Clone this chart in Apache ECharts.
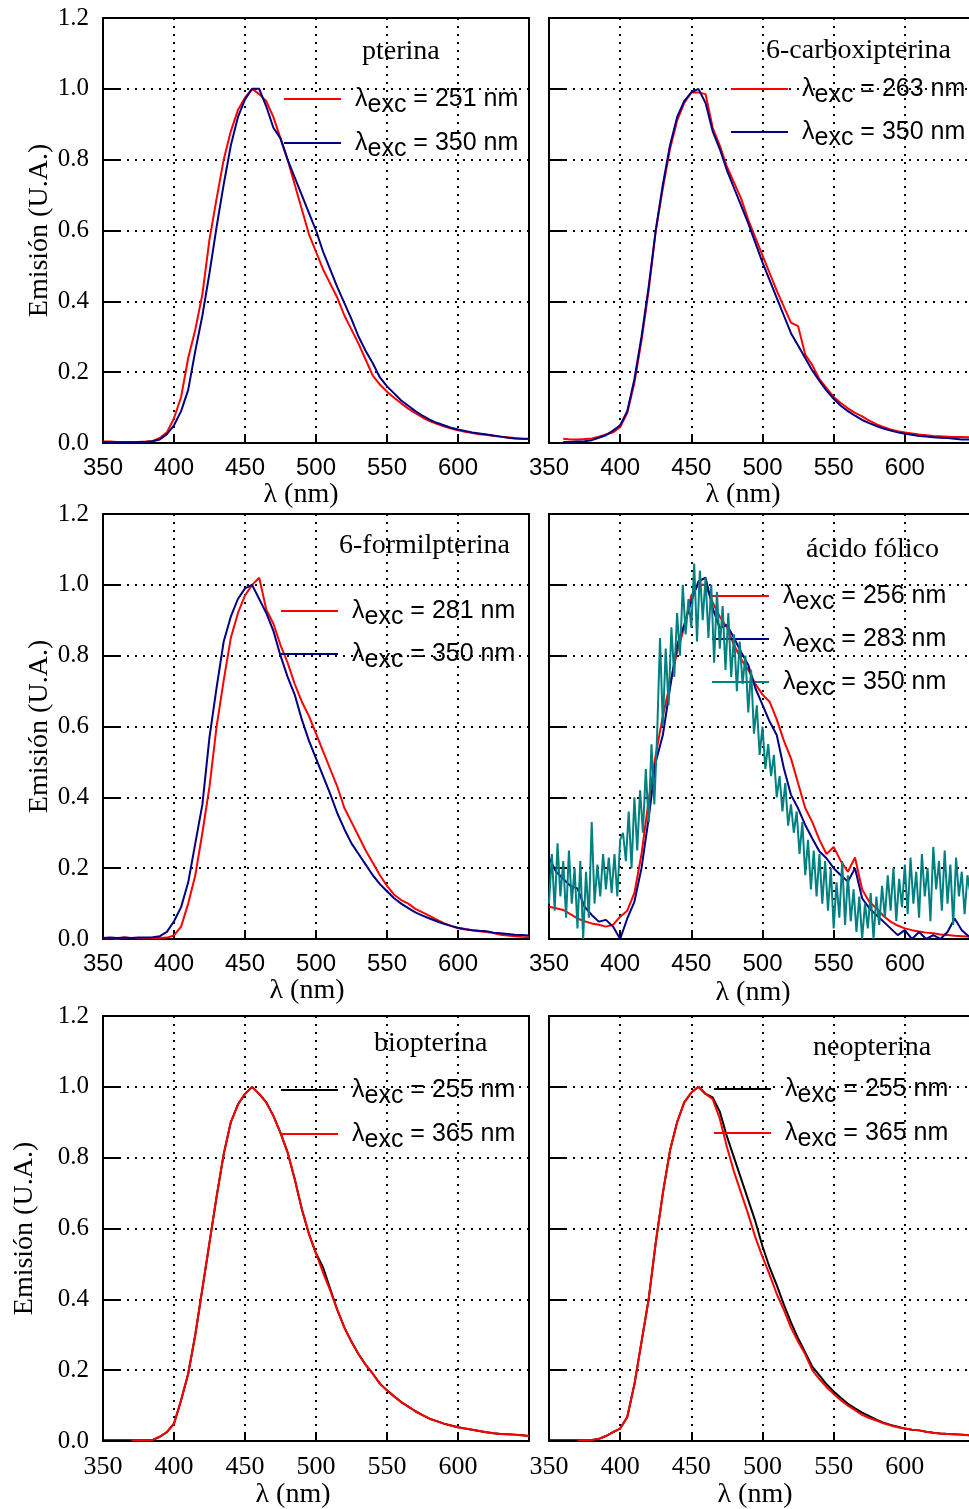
<!DOCTYPE html>
<html>
<head>
<meta charset="utf-8">
<title>Emisión</title>
<script src="https://cdn.jsdelivr.net/npm/echarts@6/dist/echarts.min.js"></script>
<style>
    html, body { margin: 0; padding: 0; background: #fff; }
    #id-div-chart { width: 969px; height: 1509px; }
</style>
</head>
<body>
<div id="id-div-chart"></div>
<script>
var log = console.log.bind(console)

var e = (selector) => document.querySelector(selector)

// longitud de onda (nm), cada 5 nm
var wavelength = [
    350, 355, 360, 365, 370, 375, 380, 385, 390, 395,
    400, 405, 410, 415, 420, 425, 430, 435, 440, 445,
    450, 455, 460, 465, 470, 475, 480, 485, 490, 495,
    500, 505, 510, 515, 520, 525, 530, 535, 540, 545,
    550, 555, 560, 565, 570, 575, 580, 585, 590, 595,
    600, 605, 610, 615, 620, 625, 630, 635, 640, 645, 650,
]

// espectro ruidoso de ácido fólico (exc 350), cada 2 nm
var wavelengthFine = [
    350, 352, 354, 356, 358, 360, 362, 364, 366, 368,
    370, 372, 374, 376, 378, 380, 382, 384, 386, 388,
    390, 392, 394, 396, 398, 400, 402, 404, 406, 408,
    410, 412, 414, 416, 418, 420, 422, 424, 426, 428,
    430, 432, 434, 436, 438, 440, 442, 444, 446, 448,
    450, 452, 454, 456, 458, 460, 462, 464, 466, 468,
    470, 472, 474, 476, 478, 480, 482, 484, 486, 488,
    490, 492, 494, 496, 498, 500, 502, 504, 506, 508,
    510, 512, 514, 516, 518, 520, 522, 524, 526, 528,
    530, 532, 534, 536, 538, 540, 542, 544, 546, 548,
    550, 552, 554, 556, 558, 560, 562, 564, 566, 568,
    570, 572, 574, 576, 578, 580, 582, 584, 586, 588,
    590, 592, 594, 596, 598, 600, 602, 604, 606, 608,
    610, 612, 614, 616, 618, 620, 622, 624, 626, 628,
    630, 632, 634, 636, 638, 640, 642, 644, 646,
]

var pterina251 = [
    .004, .004, .003, .003, .003, .003, .004, .006, .014, .03,
    .07, .13, .24, .32, .42, .575, .69, .80, .88, .94,
    .975, 1.0, .985, .965, .92, .86, .80, .73, .66, .59,
    .54, .49, .45, .41, .36, .32, .28, .235, .19, .165,
    .145, .128, .112, .097, .084, .072, .062, .054, .047, .041,
    .036, .032, .028, .025, .023, .02, .018, .016, .014, .012, .011,
]
var pterina350 = [
    .002, .002, .002, .002, .002, .003, .003, .005, .01, .025,
    .05, .09, .15, .26, .36, .48, .61, .73, .84, .92,
    .97, 1.0, 1.0, .95, .89, .86, .80, .75, .70, .65,
    .60, .54, .49, .44, .395, .35, .30, .26, .225, .185,
    .16, .14, .12, .105, .09, .077, .066, .057, .05, .043,
    .038, .034, .03, .027, .024, .021, .018, .015, .013, .012, .012,
]

var carboxi263 = [
    null, null, .012, .01, .01, .011, .013, .018, .024, .03,
    .045, .085, .17, .29, .43, .60, .72, .83, .91, .96,
    .99, .99, .985, .89, .84, .78, .735, .69, .63, .58,
    .53, .48, .43, .385, .34, .33, .25, .22, .18, .155,
    .13, .113, .098, .085, .075, .063, .053, .045, .038, .033,
    .03, .027, .024, .022, .02, .019, .018, .017, .017, .016, .015,
]
var carboxi350 = [
    null, null, .003, .003, .004, .005, .008, .015, .022, .035,
    .05, .09, .18, .30, .44, .60, .73, .84, .92, .965,
    .99, 1.0, .96, .88, .83, .77, .72, .67, .62, .565,
    .51, .46, .41, .36, .31, .275, .24, .205, .175, .148,
    .125, .105, .09, .077, .065, .056, .048, .041, .035, .03,
    .026, .023, .02, .018, .016, .015, .014, .012, .01, .01, .01,
]

var formil281 = [
    .002, .003, .001, .004, .002, .003, .002, .003, .003, .004,
    .01, .035, .10, .18, .30, .43, .60, .73, .85, .92,
    .97, 1.0, 1.02, .93, .89, .83, .78, .72, .67, .63,
    .58, .53, .48, .43, .37, .33, .29, .25, .215, .18,
    .15, .125, .11, .10, .085, .075, .065, .055, .045, .037,
    .03, .027, .025, .022, .02, .017, .012, .01, .008, .006, .005,
]
var formil350 = [
    .003, .004, .003, .004, .003, .004, .004, .005, .008, .02,
    .05, .09, .16, .27, .38, .57, .71, .84, .91, .96,
    .99, 1.0, .96, .92, .87, .80, .74, .69, .62, .56,
    .51, .46, .41, .355, .31, .27, .24, .21, .18, .155,
    .135, .115, .10, .087, .075, .066, .058, .05, .043, .037,
    .032, .028, .025, .023, .022, .018, .016, .014, .012, .011, .01,
]

var folico256 = [
    .091, .087, .082, .07, .058, .05, .044, .04, .035, .04,
    .063, .08, .13, .24, .39, .52, .63, .72, .81, .88,
    .97, 1.0, 1.0, .95, .91, .88, .83, .79, .76, .72,
    .69, .67, .62, .56, .51, .44, .37, .33, .28, .24,
    .26, .22, .19, .23, .14, .105, .087, .065, .049, .038,
    .03, .025, .021, .018, .016, .013, .011, .009, .008, .007, .006,
]
var folico283 = [
    .23, .19, .17, .15, .143, .091, .068, .049, .054, .035,
    .0, .058, .105, .20, .34, .50, .576, .708, .83, .887,
    .953, 1.01, 1.02, .934, .878, .887, .85, .81, .774, .708,
    .661, .614, .576, .482, .407, .369, .322, .284, .247, .228,
    .20, .18, .162, .20, .115, .087, .068, .049, .03, .011,
    .025, .0, .02, .0, .011, .0, .02, .058, .025, .007, .0,
]
var folico350 = [
    .10, .24, .08, .27, .12, .22, .06, .25, .10, .20,
    .03, .22, .00, .19, .06, .33, .10, .21, .12, .24,
    .14, .23, .13, .24, .12, .28, .30, .22, .36, .20,
    .40, .25, .42, .30, .48, .33, .55, .38, .58, .85,
    .60, .82, .66, .88, .74, .92, .80, 1.00, .86, .96,
    .88, 1.06, .84, 1.04, .90, 1.02, .85, 1.00, .78, .98,
    .82, .94, .76, .92, .74, .86, .70, .84, .72, .80,
    .64, .76, .58, .66, .52, .60, .48, .55, .46, .52,
    .40, .46, .36, .44, .32, .38, .30, .36, .24, .33,
    .18, .28, .14, .25, .12, .24, .10, .22, .08, .20,
    .03, .16, .06, .22, .04, .18, .05, .14, .02, .12,
    .00, .10, .03, .13, .00, .12, .04, .15, .06, .18,
    .08, .20, .05, .17, .09, .21, .07, .23, .10, .19,
    .06, .24, .12, .20, .05, .26, .14, .22, .08, .25,
    .10, .21, .04, .23, .12, .19, .07, .18, .13,
]

var bio255 = [
    .002, .002, .002, .002, .002, .002, .002, .003, .012, .025,
    .049, .115, .19, .30, .43, .56, .69, .81, .90, .95,
    .98, 1.0, .98, .956, .918, .87, .815, .74, .655, .585,
    .53, .49, .43, .37, .32, .28, .245, .215, .19, .162,
    .143, .126, .11, .097, .084, .073, .063, .056, .049, .044,
    .039, .035, .032, .028, .025, .022, .02, .019, .018, .016, .014,
]
var bio365 = [
    null, null, null, null, .002, .002, .002, .003, .012, .025,
    .049, .115, .19, .30, .43, .56, .69, .81, .90, .95,
    .98, 1.0, .98, .956, .918, .87, .815, .74, .655, .585,
    .53, .475, .425, .37, .32, .28, .245, .215, .19, .162,
    .143, .126, .11, .097, .084, .073, .063, .056, .049, .044,
    .039, .035, .032, .028, .025, .022, .02, .019, .018, .016, .014,
]

var neo255 = [
    .002, .002, .002, .002, .002, .002, .003, .006, .014, .025,
    .035, .068, .16, .28, .40, .56, .70, .82, .90, .956,
    .984, 1.0, .98, .97, .93, .86, .80, .74, .68, .62,
    .55, .49, .44, .385, .335, .29, .25, .21, .185, .16,
    .14, .122, .105, .092, .08, .07, .06, .052, .045, .04,
    .035, .032, .03, .026, .023, .021, .02, .019, .018, .016, .015,
]
var neo365 = [
    null, null, null, null, .002, .002, .003, .006, .014, .025,
    .035, .068, .16, .28, .40, .56, .70, .82, .90, .956,
    .984, 1.0, .98, .965, .91, .83, .76, .70, .64, .575,
    .52, .47, .415, .37, .32, .28, .245, .20, .175, .152,
    .133, .115, .10, .087, .074, .065, .058, .05, .044, .039,
    .035, .032, .03, .026, .023, .021, .02, .019, .018, .016, .015,
]

var yTicks = [0, 0.2, 0.4, 0.6, 0.8, 1.0, 1.2]

var serif = 'Liberation Serif'
var sans = 'Liberation Sans'
var red = '#ff0000'
var navy = '#000080'
var teal = '#008080'
var black = '#000000'

// posición de cada panel (px)
var layout = [
    {left: 103, top: 18, width: 426, title: 'pterina', titleLeft: 362, titleTop: 38,
        legendLeft: 284, legendTop: 80, legendGap: 6, xFont: sans, xSize: 24, yLabel: true, yNameGap: 44, xNameGap: 36, xNameShift: 30},
    {left: 549, top: 18, width: 427, title: '6-carboxipterina', titleLeft: 766, titleTop: 37,
        legendLeft: 731, legendTop: 70, legendGap: 5, xFont: sans, xSize: 24, yLabel: false, xNameGap: 37, xNameShift: 39},
    {left: 103, top: 514, width: 426, title: '6-formilpterina', titleLeft: 339, titleTop: 532,
        legendLeft: 281, legendTop: 592, legendGap: 5, xFont: sans, xSize: 24, yLabel: true, yNameGap: 44, xNameGap: 35, xNameShift: 18},
    {left: 549, top: 514, width: 427, title: 'ácido fólico', titleLeft: 806, titleTop: 536,
        legendLeft: 712, legendTop: 577, legendGap: 5, xFont: sans, xSize: 24, yLabel: false, xNameGap: 40, xNameShift: 19},
    {left: 103, top: 1016, width: 426, title: 'biopterina', titleLeft: 374, titleTop: 1030,
        legendLeft: 281, legendTop: 1071, legendGap: 6, xFont: serif, xSize: 26, yLabel: true, yNameGap: 64, xNameGap: 36, xNameShift: 46},
    {left: 549, top: 1016, width: 427, title: 'neopterina', titleLeft: 813, titleTop: 1034,
        legendLeft: 714, legendTop: 1070, legendGap: 6, xFont: serif, xSize: 26, yLabel: false, xNameGap: 28, xNameShift: 15},
]

var panelSeries = [
    [
        {key: 'pterina 251', nm: 251, color: red, x: wavelength, y: pterina251},
        {key: 'pterina 350', nm: 350, color: navy, x: wavelength, y: pterina350},
    ],
    [
        {key: 'carboxi 263', nm: 263, color: red, x: wavelength, y: carboxi263},
        {key: 'carboxi 350', nm: 350, color: navy, x: wavelength, y: carboxi350},
    ],
    [
        {key: 'formil 281', nm: 281, color: red, x: wavelength, y: formil281},
        {key: 'formil 350', nm: 350, color: navy, x: wavelength, y: formil350},
    ],
    [
        {key: 'folico 256', nm: 256, color: red, x: wavelength, y: folico256},
        {key: 'folico 283', nm: 283, color: navy, x: wavelength, y: folico283},
        {key: 'folico 350', nm: 350, color: teal, x: wavelengthFine, y: folico350},
    ],
    [
        {key: 'bio 255', nm: 255, color: black, x: wavelength, y: bio255},
        {key: 'bio 365', nm: 365, color: red, x: wavelength, y: bio365},
    ],
    [
        {key: 'neo 255', nm: 255, color: black, x: wavelength, y: neo255},
        {key: 'neo 365', nm: 365, color: red, x: wavelength, y: neo365},
    ],
]

var pairs = function(xs, ys) {
    var r = []
    for (var i = 0; i < xs.length; i++) {
        r.push([xs[i], ys[i]])
    }
    return r
}

var excitation = {}

var legendRich = {
    l: {fontFamily: sans, fontSize: 25, lineHeight: 25, color: '#000', padding: [0, 0, 0, 9]},
    s: {fontFamily: sans, fontSize: 25, lineHeight: 25, color: '#000', padding: [13, 0, 0, 0]},
    t: {fontFamily: sans, fontSize: 25, lineHeight: 25, color: '#000'},
}

var dotted = {color: '#000', type: [2, 6], width: 2}

var buildOption = function() {
    var grids = []
    var xAxes = []
    var yAxes = []
    var titles = []
    var legends = []
    var series = []
    for (var i = 0; i < layout.length; i++) {
        var p = layout[i]
        grids.push({
            left: p.left, top: p.top, width: p.width, height: 425,
            show: true, borderColor: '#000', borderWidth: 2,
            backgroundColor: 'transparent', outerBoundsMode: 'none',
        })
        xAxes.push({
            type: 'value', gridIndex: i, min: 350, max: 650, interval: 50,
            name: 'λ (nm)', nameLocation: 'middle', nameGap: p.xNameGap,
            nameTextStyle: {
                fontFamily: serif, fontSize: 28, color: '#000',
                padding: [0, p.xNameShift, 0, 0],
            },
            axisLine: {lineStyle: {color: '#000', width: 2}},
            axisTick: {inside: true, length: 9, lineStyle: {color: '#000', width: 2}},
            axisLabel: {
                fontFamily: p.xFont, fontSize: p.xSize, color: '#000', margin: 13,
                showMinLabel: true, showMaxLabel: false,
            },
            splitLine: {show: true, lineStyle: dotted},
        })
        yAxes.push({
            type: 'value', gridIndex: i, min: yTicks[0], max: yTicks[yTicks.length - 1], interval: 0.2,
            name: p.yLabel ? 'Emisión (U.A.)' : '',
            nameLocation: 'middle', nameRotate: 90, nameGap: p.yNameGap,
            nameTextStyle: {fontFamily: serif, fontSize: 28, color: '#000'},
            axisLine: {show: true, lineStyle: {color: '#000', width: 2}},
            axisTick: {show: true, inside: true, length: 18, lineStyle: {color: '#000', width: 2}},
            axisLabel: {
                show: p.yLabel, fontFamily: serif, fontSize: 25, color: '#000', margin: 14,
                formatter: (v) => v.toFixed(1),
            },
            splitLine: {show: true, lineStyle: dotted},
        })
        titles.push({
            text: p.title, left: p.titleLeft, top: p.titleTop, padding: 0,
            textStyle: {fontFamily: serif, fontSize: 28, fontWeight: 'normal', color: '#000'},
        })
        var names = []
        var list = panelSeries[i]
        for (var k = 0; k < list.length; k++) {
            var s = list[k]
            excitation[s.key] = s.nm
            names.push(s.key)
            series.push({
                name: s.key, type: 'line', xAxisIndex: i, yAxisIndex: i,
                data: pairs(s.x, s.y),
                symbol: 'none', showSymbol: false, connectNulls: false,
                lineStyle: {color: s.color, width: 2},
                itemStyle: {color: s.color},
                silent: true, z: 3 + k,
            })
        }
        // la muestra de la leyenda es un rectángulo de 2 px, o sea una línea
        legends.push({
            data: names, orient: 'vertical', left: p.legendLeft, top: p.legendTop,
            padding: 0, itemGap: p.legendGap, itemWidth: 57, itemHeight: 2,
            icon: 'rect', selectedMode: false,
            formatter: (name) => '{l|λ}{s|exc}{t| = ' + excitation[name] + ' nm}',
            textStyle: {fontFamily: sans, fontSize: 25, color: '#000', rich: legendRich},
        })
    }
    return {
        animation: false,
        backgroundColor: '#fff',
        title: titles,
        legend: legends,
        grid: grids,
        xAxis: xAxes,
        yAxis: yAxes,
        series: series,
    }
}

var __main = function() {
    var chart = echarts.init(e('#id-div-chart'), null, {renderer: 'canvas'})
    chart.setOption(buildOption())
}

__main()
</script>
</body>
</html>
